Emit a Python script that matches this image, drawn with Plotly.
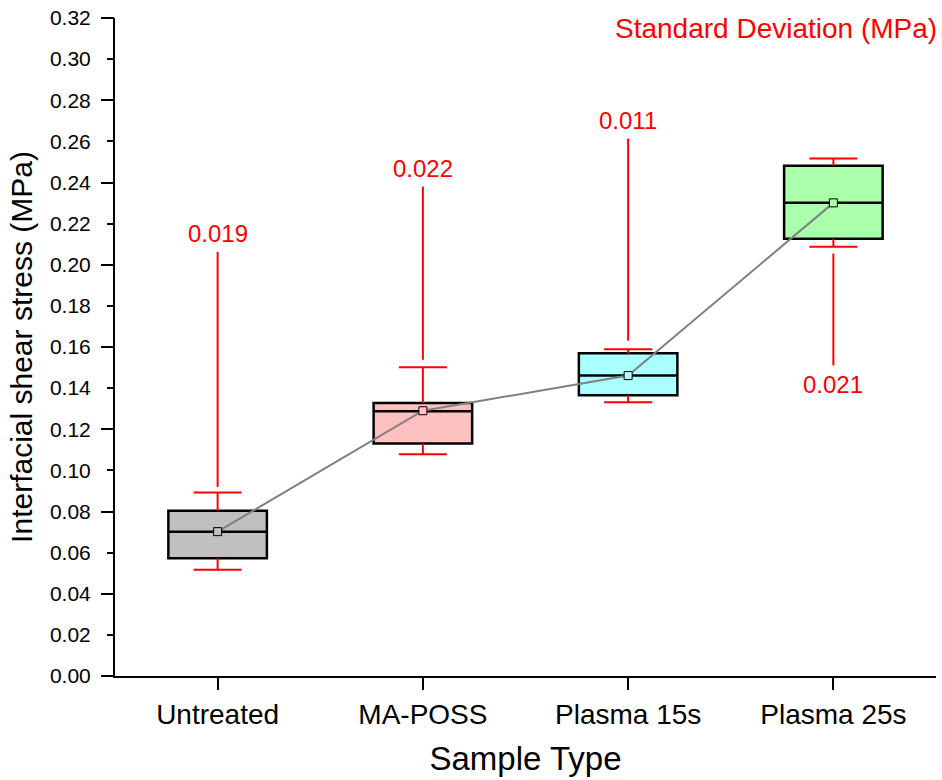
import plotly.graph_objects as go

# ---------------- data ----------------
categories = ["Untreated", "MA-POSS", "Plasma 15s", "Plasma 25s"]
q1 = [0.0573, 0.1131, 0.1365, 0.2127]
median = [0.0702, 0.1288, 0.1461, 0.2301]
q3 = [0.0804, 0.1328, 0.1570, 0.2482]
mean = [0.0702, 0.1290, 0.1461, 0.2301]
whisker_low = [0.0517, 0.1078, 0.1331, 0.2087]
whisker_high = [0.0892, 0.1501, 0.1589, 0.2517]
sd_labels = ["0.019", "0.022", "0.011", "0.021"]
sd_line_start = [0.0920, 0.1538, 0.1631, 0.2054]
sd_line_end = [0.2062, 0.2380, 0.2614, 0.1510]
box_colors = ["#C0C0C0", "#FFC0C0", "#AAFFFF", "#AAFFAA"]

FONT = "Liberation Sans, Arial, sans-serif"
RED = "#FF0000"
box_width = 0.48
cap_half = 0.117

fig = go.Figure()
xpos = list(range(len(categories)))

# boxes
for i in xpos:
    fig.add_trace(go.Box(
        x=[i], q1=[q1[i]], median=[median[i]], q3=[q3[i]],
        lowerfence=[q1[i]], upperfence=[q3[i]],
        width=box_width, whiskerwidth=0,
        fillcolor=box_colors[i], line=dict(color="black", width=2.5),
        boxpoints=False, showlegend=False, hoverinfo="skip",
    ))

# red whiskers and caps
wx, wy = [], []
for i in xpos:
    wx += [i, i, None, i - cap_half, i + cap_half, None]
    wy += [q3[i], whisker_high[i], None, whisker_high[i], whisker_high[i], None]
    wx += [i, i, None, i - cap_half, i + cap_half, None]
    wy += [q1[i], whisker_low[i], None, whisker_low[i], whisker_low[i], None]
fig.add_trace(go.Scatter(x=wx, y=wy, mode="lines", line=dict(color=RED, width=2),
                         showlegend=False, hoverinfo="skip"))

# red SD lines
sx, sy = [], []
for i in xpos:
    sx += [i, i, None]
    sy += [sd_line_start[i], sd_line_end[i], None]
fig.add_trace(go.Scatter(x=sx, y=sy, mode="lines", line=dict(color=RED, width=2),
                         showlegend=False, hoverinfo="skip"))

# mean line
fig.add_trace(go.Scatter(
    x=xpos, y=mean, mode="lines+markers",
    line=dict(color="#808080", width=2),
    marker=dict(symbol="square", size=8, color=box_colors,
                line=dict(color="black", width=1)),
    showlegend=False, hoverinfo="skip",
))

# invisible trace for the secondary (long tick) axis
fig.add_trace(go.Scatter(x=[0], y=[0], yaxis="y2", mode="markers",
                         marker=dict(opacity=0), showlegend=False, hoverinfo="skip"))

# SD labels
for i in xpos:
    above = sd_line_end[i] > sd_line_start[i]
    fig.add_annotation(
        x=i, y=sd_line_end[i], text=sd_labels[i], showarrow=False,
        yanchor="bottom" if above else "top",
        yshift=3 if above else -3,
        font=dict(family=FONT, size=24, color=RED),
    )

fig.add_annotation(
    x=1.004, y=1.0, xref="paper", yref="paper", xanchor="right", yanchor="middle",
    yshift=-10, text="Standard Deviation (MPa)", showarrow=False,
    font=dict(family=FONT, size=28, color=RED),
)

yrange = [0, 0.32]
fig.update_layout(
    width=942, height=780,
    margin=dict(l=115, r=6, t=15, b=104),
    plot_bgcolor="white", paper_bgcolor="white",
    font=dict(family=FONT, color="black"),
    xaxis=dict(
        range=[-0.5, 3.5], tickmode="array", tickvals=xpos, ticktext=categories,
        ticks="outside", ticklen=12, tickwidth=2, tickcolor="black",
        showline=True, linewidth=2, linecolor="black",
        showgrid=False, zeroline=False,
        tickfont=dict(family=FONT, size=28),
        title=dict(text="Sample Type", font=dict(family=FONT, size=33), standoff=18),
    ),
    yaxis=dict(
        range=yrange, tick0=0, dtick=0.02, tickformat=".2f",
        ticks="outside", ticklen=6, tickwidth=2, tickcolor="black",
        ticklabelstandoff=12,
        showline=True, linewidth=2, linecolor="black",
        showgrid=False, zeroline=False,
        tickfont=dict(family=FONT, size=21),
        title=dict(text="Interfacial shear stress (MPa)", font=dict(family=FONT, size=30),
                   standoff=8),
    ),
    yaxis2=dict(
        range=yrange, overlaying="y", side="left", tick0=0, dtick=0.04,
        ticks="outside", ticklen=13, tickwidth=2, tickcolor="black",
        showticklabels=False, showline=False, showgrid=False, zeroline=False,
    ),
)

fig.write_html("out.html")
